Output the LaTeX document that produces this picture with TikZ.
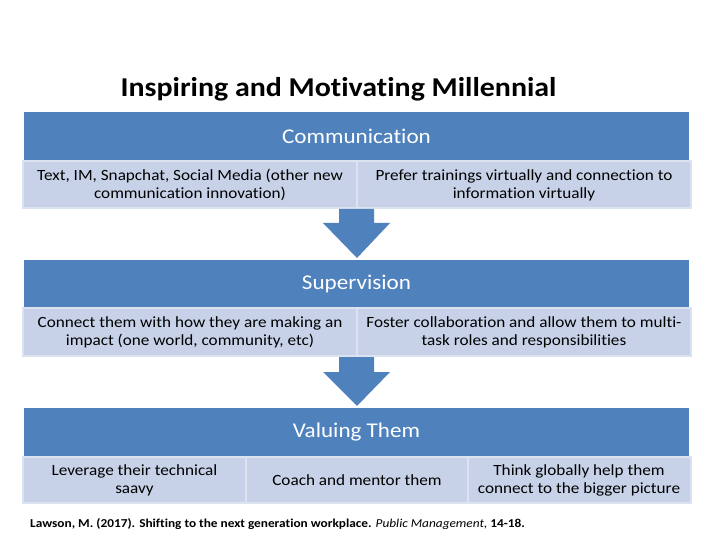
\documentclass[tikz,border=0pt]{standalone}
\usepackage{fontspec}
\setmainfont{Carlito}[FakeStretch=1.1, Ligatures=NoCommon]
\usetikzlibrary{positioning}
\definecolor{bandblue}{HTML}{4F81BD}
\definecolor{lightbox}{HTML}{C7D2E8}
\definecolor{lightedge}{HTML}{DCE3F0}
\tikzset{
  band/.style={fill=bandblue, draw=none, text=white, font=\fontsize{21}{25}\selectfont},
  subbox/.style={fill=lightbox, draw=lightedge, line width=1.5pt, align=center, font=\fontsize{15.6}{18}\selectfont, text=black},
  downarrow/.style={fill=bandblue, draw=none}
}
\begin{document}
\begin{tikzpicture}[x=1pt,y=-1pt]
\useasboundingbox (0,0) rectangle (720,540);
\fill[white] (0,0) rectangle (720,540);
% title
\node[font=\bfseries\fontsize{27.2}{31}\selectfont] (title) at (338.5,89) {Inspiring and Motivating Millennial};
% band 1
\fill[bandblue] (24,112) rectangle (689,161);
\node[band] (b1) at (356.5,136) {Communication};
\draw[subbox] (23,161) rectangle (357,208);
\draw[subbox] (357,161) rectangle (691,208);
\node[subbox,draw=none,fill=none] (s11) at (190,185) {Text, IM, Snapchat, Social Media (other new\\communication innovation)};
\node[subbox,draw=none,fill=none] (s12) at (524,185) {Prefer trainings virtually and connection to\\information virtually};
% arrow 1
\fill[downarrow] (339,209) -- (374,209) -- (374,223) -- (390,223) -- (357,258) -- (323,223) -- (339,223) -- cycle;
% band 2
\fill[bandblue] (24,260) rectangle (689,308);
\node[band] (b2) at (356.5,284) {Supervision};
\draw[subbox] (23,308) rectangle (357,356);
\draw[subbox] (357,308) rectangle (691,356);
\node[subbox,draw=none,fill=none] (s21) at (190,332.5) {Connect them with how they are making an\\impact (one world, community, etc)};
\node[subbox,draw=none,fill=none] (s22) at (524,332.5) {Foster collaboration and allow them to multi-\\task roles and responsibilities};
% arrow 2
\fill[downarrow] (339,357) -- (374,357) -- (374,372) -- (390,372) -- (357,406) -- (323,372) -- (339,372) -- cycle;
% band 3
\fill[bandblue] (24,408) rectangle (689,457);
\node[band] (b3) at (356.5,432) {Valuing Them};
\draw[subbox] (23,457) rectangle (246,503);
\draw[subbox] (246,457) rectangle (468,503);
\draw[subbox] (468,457) rectangle (691,503);
\node[subbox,draw=none,fill=none] (s31) at (134.5,480) {Leverage their technical\\saavy};
\node[subbox,draw=none,fill=none] (s32) at (357,480) {Coach and mentor them};
\node[subbox,draw=none,fill=none] (s33) at (579,480) {Think globally help them\\connect to the bigger picture};
% citation
\node[anchor=base west, inner sep=0pt, font=\fontsize{12.1}{14}\selectfont] (cite) at (30,527) {\textbf{Lawson, M. (2017). Shifting to the next generation workplace.} \textit{Public Management,} \textbf{14-18.}};
\end{tikzpicture}
\end{document}
